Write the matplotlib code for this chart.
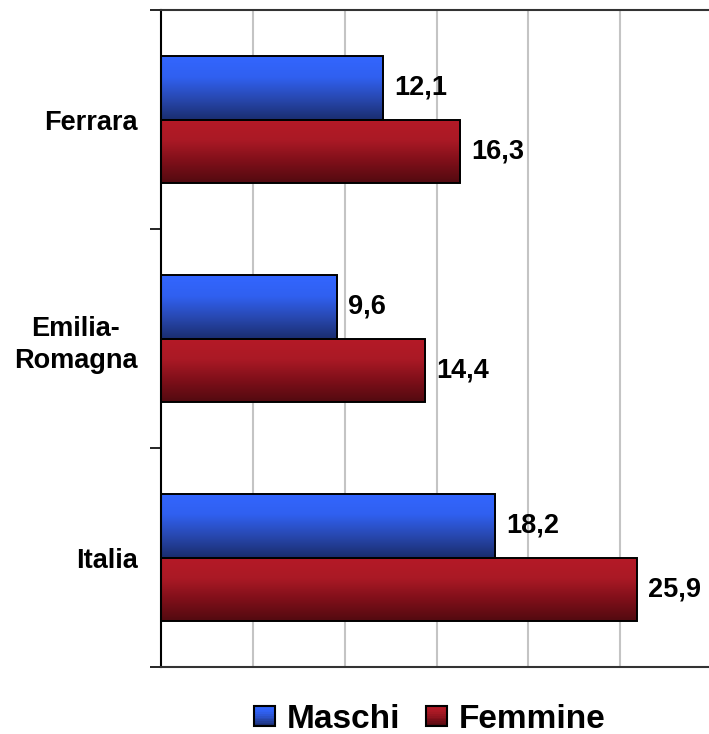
import matplotlib
matplotlib.use("Agg")
import matplotlib.pyplot as plt
import numpy as np
from matplotlib.colors import LinearSegmentedColormap

plt.rcParams['font.family'] = ['Liberation Sans', 'DejaVu Sans']

categories = ["Ferrara", "Emilia-\nRomagna", "Italia"]
series_names = ["Maschi", "Femmine"]
maschi = [12.1, 9.6, 18.2]
femmine = [16.3, 14.4, 25.9]

blue_cmap = LinearSegmentedColormap.from_list("b", ["#3366FF", "#3060F0", "#2848B0", "#1A2D6E"])
red_cmap = LinearSegmentedColormap.from_list("r", ["#B51A27", "#AA1925", "#7E0F19", "#520A10"])

fig = plt.figure(figsize=(7.09, 7.34), dpi=100)
ax = fig.add_axes([161/709, 1-667/734, 551/709, 657/734])

y = np.arange(len(categories))
h = 0.288
grad = np.linspace(0, 1, 256).reshape(-1, 1)

def draw(vals, offset, cmap):
    bars = ax.barh(y + offset, vals, height=h, color='none', edgecolor='black', linewidth=1.4, zorder=3)
    for b in bars:
        x0, y0 = b.get_x(), b.get_y()
        w, hh = b.get_width(), b.get_height()
        im = ax.imshow(grad, cmap=cmap, aspect='auto', extent=[x0, x0 + w, y0 + hh, y0],
                       origin='upper', zorder=2, interpolation='bicubic')
        im.set_clip_path(b)
    return bars

b1 = draw(maschi, -h/2, blue_cmap)
b2 = draw(femmine, h/2, red_cmap)

for bars, vals in ((b1, maschi), (b2, femmine)):
    for b, v in zip(bars, vals):
        ax.annotate(f"{v:.1f}".replace('.', ','), (b.get_width(), b.get_y() + b.get_height()/2),
                    xytext=(8, 0), textcoords='offset points', ha='left', va='center',
                    fontsize=19.5, fontweight='bold', color='black')

ax.set_xlim(0, 30)
ax.set_ylim(2.5, -0.5)
ax.set_xticks([5, 10, 15, 20, 25])
ax.set_xticklabels([])
ax.tick_params(axis='x', length=0)
ax.grid(axis='x', color='#C4C4C4', linewidth=1.5, zorder=0)
ax.set_axisbelow(True)

ax.set_yticks([-0.5, 0.5, 1.5, 2.5])
ax.set_yticklabels([])
ax.tick_params(axis='y', which='major', length=8, width=1.2, color='black')
ax.set_yticks(y, minor=True)
ax.set_yticklabels(categories, minor=True, fontsize=19.5, fontweight='bold', linespacing=1.3)
ax.tick_params(axis='y', which='minor', length=0, pad=17)
for t in ax.get_yticklabels(minor=True):
    t.set_multialignment('center')

for s in ['top', 'bottom']:
    ax.spines[s].set_color('#333333')
    ax.spines[s].set_linewidth(1.5)
ax.spines['left'].set_color('black')
ax.spines['left'].set_linewidth(1.5)
ax.spines['right'].set_visible(False)

from matplotlib.patches import Rectangle
from matplotlib.legend_handler import HandlerBase

class GradHandler(HandlerBase):
    def __init__(self, cmap):
        super().__init__()
        self.cmap = cmap
    def create_artists(self, legend, orig_handle, xdescent, ydescent, width, height, fontsize, trans):
        s = height * 0.88
        x0 = -xdescent + width - s
        y0 = -ydescent + (height - s) / 2
        arts = []
        n = 12
        for i in range(n):
            c = self.cmap(1 - (i + 0.5) / n)
            r = Rectangle((x0, y0 + i * s / n), s, s / n + 0.3, facecolor=c, edgecolor='none', transform=trans)
            arts.append(r)
        border = Rectangle((x0, y0), s, s, facecolor='none', edgecolor='black', linewidth=1.5, transform=trans)
        arts.append(border)
        return arts

h1 = Rectangle((0, 0), 1, 1)
h2 = Rectangle((0, 0), 1, 1)
leg = fig.legend([h1, h2], series_names, loc='center', bbox_to_anchor=(430/709, 1-719/734),
                 ncol=2, frameon=False, prop={'size': 24, 'weight': 'bold'},
                 handler_map={h1: GradHandler(blue_cmap), h2: GradHandler(red_cmap)},
                 handlelength=0.6, handletextpad=0.35, columnspacing=0.8)

fig.savefig("out.png", dpi=100)
